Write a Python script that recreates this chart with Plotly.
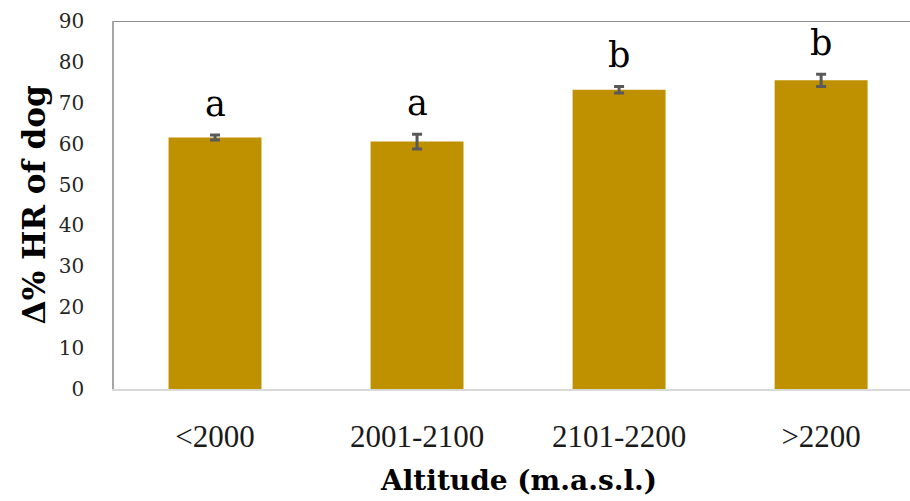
import plotly.graph_objects as go

# Altitude classes and mean change in heart rate (%) with standard errors
altitude = ["<2000", "2001-2100", "2101-2200", ">2200"]
hr_change = [61.5, 60.5, 73.2, 75.5]
hr_err = [0.6, 1.8, 0.8, 1.5]
groups = ["a", "a", "b", "b"]
y_ticks = [0, 10, 20, 30, 40, 50, 60, 70, 80, 90]

BAR = "#BF9000"
ERR = "#595959"

fig = go.Figure()
fig.add_trace(go.Bar(
    x=altitude,
    y=hr_change,
    width=0.46,
    marker=dict(color=BAR, line=dict(width=0)),
    error_y=dict(type="data", array=hr_err, visible=True,
                 color=ERR, thickness=3, width=5),
    hoverinfo="skip",
))

# significance letters above each bar
for cat, v, e, g in zip(altitude, hr_change, hr_err, groups):
    fig.add_annotation(
        x=cat, y=v + e, xref="x", yref="y",
        text=g, showarrow=False, yanchor="bottom", yshift=9,
        font=dict(family="DejaVu Serif", size=35, color="#000000"),
    )

# axis titles
fig.add_annotation(
    x=-0.1, y=0.5, xref="paper", yref="paper",
    text="<b>Δ% HR of dog</b>", textangle=-90, showarrow=False,
    xanchor="center", yanchor="middle",
    font=dict(family="DejaVu Serif", size=31, color="#000000"),
)
fig.add_annotation(
    x=1.5, y=-0.248, xref="x", yref="paper",
    text="<b>Altitude (m.a.s.l.)</b>", showarrow=False,
    xanchor="center", yanchor="middle",
    font=dict(family="DejaVu Serif", size=28, color="#000000"),
)

# top frame line
fig.add_shape(type="line", xref="paper", yref="y", x0=0, x1=1, y0=90, y1=90,
              line=dict(color="#8C8C8C", width=2))

fig.update_layout(
    width=910, height=501,
    margin=dict(l=114, r=0, t=21, b=112),
    plot_bgcolor="white", paper_bgcolor="white",
    showlegend=False,
    bargap=0.54,
    xaxis=dict(
        range=[-0.5, 3.44],
        showline=True, linecolor="#D9D9D9", linewidth=2,
        showgrid=False, ticks="", ticklabelstandoff=19,
        tickfont=dict(family="Liberation Serif", size=31, color="#1a1a1a"),
    ),
    yaxis=dict(
        range=[0, 90], tickvals=y_ticks,
        showline=True, linecolor="#A6A6A6", linewidth=1.5,
        showgrid=False, zeroline=False, ticks="", ticklabelstandoff=24,
        tickfont=dict(family="DejaVu Serif", size=20, color="#262626"),
    ),
)

fig.write_html("out.html")
